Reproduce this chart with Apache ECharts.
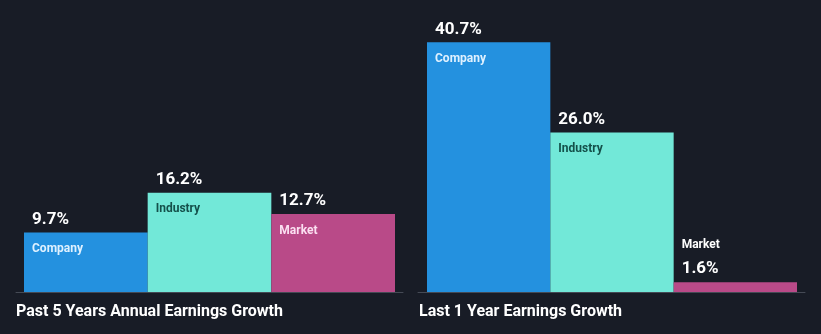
<!DOCTYPE html>
<html>
<head>
<meta charset="utf-8">
<script src="https://cdn.jsdelivr.net/npm/echarts@6/dist/echarts.min.js"></script>
<style>
html,body{margin:0;padding:0;background:#181c26;}
#chart{width:821px;height:334px;}
</style>
</head>
<body>
<div id="chart"></div>
<script>
var categories = ['Company', 'Industry', 'Market'];
var past5Values = [9.7, 16.2, 12.7];
var last1Values = [40.7, 26.0, 1.6];
var panelTitles = ['Past 5 Years Annual Earnings Growth', 'Last 1 Year Earnings Growth'];
var barColors = ['#2491df', '#72e8d8', '#b94a88'];
var nameColors = ['#dff1ff', '#14504a', '#fbe0f1'];

var FONT = 'Roboto, "Noto Sans", sans-serif';

function buildData(values) {
  return values.map(function (v, i) {
    var small = v < 5;
    return {
      value: v,
      itemStyle: { color: barColors[i] },
      label: {
        position: small ? [8, -47] : [8, -23],
        formatter: small
          ? '{m' + i + '|' + categories[i] + '}\n{vs|' + v.toFixed(1) + '%}'
          : '{v|' + v.toFixed(1) + '%}\n{c' + i + '|' + categories[i] + '}'
      }
    };
  });
}

var rich = {
  v: { color: '#ffffff', fontSize: 17, fontWeight: 'bold', fontFamily: FONT, lineHeight: 20 },
  vs: { color: '#ffffff', fontSize: 17, fontWeight: 'bold', fontFamily: FONT, lineHeight: 28 }
};
categories.forEach(function (c, i) {
  rich['c' + i] = { color: nameColors[i], fontSize: 12, fontWeight: 'bold', fontFamily: FONT, lineHeight: 39 };
  rich['m' + i] = { color: '#ffffff', fontSize: 12, fontWeight: 'bold', fontFamily: FONT, lineHeight: 20 };
});

function barSeries(idx, values) {
  return {
    type: 'bar',
    xAxisIndex: idx,
    yAxisIndex: idx,
    barCategoryGap: 0,
    barGap: 0,
    data: buildData(values),
    silent: true,
    label: { show: true, align: 'left', verticalAlign: 'top', rich: rich }
  };
}

var titleStyle = { color: '#ffffff', fontSize: 16, fontWeight: 'bold', fontFamily: FONT };

var chart = echarts.init(document.getElementById('chart'), null, { renderer: 'canvas' });
chart.setOption({
  backgroundColor: '#181c26',
  animation: false,
  title: [
    { text: panelTitles[0], left: 16, top: 304, padding: 0, textStyle: titleStyle },
    { text: panelTitles[1], left: 419, top: 304, padding: 0, textStyle: titleStyle }
  ],
  grid: [
    { left: 24, width: 371, top: 16, bottom: 42 },
    { left: 427, width: 370, top: 16, bottom: 42 },
    { left: 16, width: 387, top: 16, bottom: 42 },
    { left: 418, width: 387, top: 16, bottom: 42 }
  ],
  xAxis: [
    { gridIndex: 0, type: 'category', data: categories, show: false },
    { gridIndex: 1, type: 'category', data: categories, show: false },
    { gridIndex: 2, type: 'value', min: 0, max: 1, axisLine: { show: true, lineStyle: { color: '#454a55', width: 1 } }, axisTick: { show: false }, axisLabel: { show: false }, splitLine: { show: false } },
    { gridIndex: 3, type: 'value', min: 0, max: 1, axisLine: { show: true, lineStyle: { color: '#454a55', width: 1 } }, axisTick: { show: false }, axisLabel: { show: false }, splitLine: { show: false } }
  ],
  yAxis: [
    { gridIndex: 0, type: 'value', min: 0, max: 45, show: false },
    { gridIndex: 1, type: 'value', min: 0, max: 45, show: false },
    { gridIndex: 2, type: 'value', min: 0, max: 45, show: false },
    { gridIndex: 3, type: 'value', min: 0, max: 45, show: false }
  ],
  series: [barSeries(0, past5Values), barSeries(1, last1Values)]
});
</script>
</body>
</html>
